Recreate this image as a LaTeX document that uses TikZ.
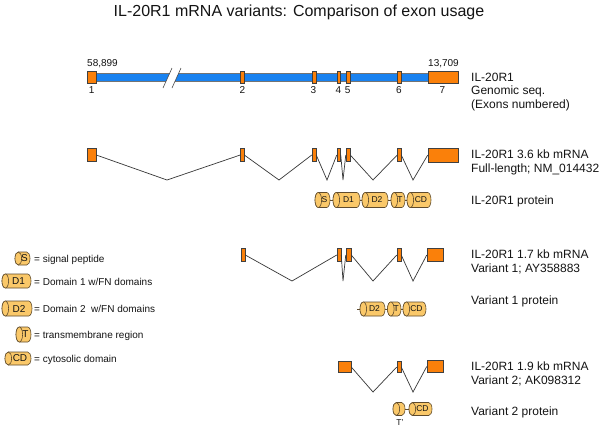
\documentclass[tikz,border=0pt]{standalone}
\usepackage{fontspec}
\setmainfont{Liberation Sans}
\usetikzlibrary{calc}
\definecolor{exonor}{RGB}{250,128,10}
\definecolor{genblue}{RGB}{25,130,240}
\definecolor{domfill}{RGB}{250,200,105}
\definecolor{domline}{RGB}{95,75,45}
\definecolor{lineg}{RGB}{55,55,55}
\definecolor{txt}{RGB}{20,20,20}
\newcommand\domr{3.3}
\tikzset{
 exon/.style={rectangle, draw=black!75, fill=exonor, line width=0.5pt, inner sep=0pt},
 intron/.style={draw=lineg, line width=0.7pt},
 barline/.style={draw=black!55, line width=0.4pt},
 slashline/.style={draw=black!70, line width=0.6pt},
 dombox/.style={rectangle, draw=none, inner sep=0pt},
 domsty/.style={draw=domline, fill=domfill, line width=0.6pt},
 stub/.style={draw=domline, line width=0.6pt},
 smalllbl/.style={font=\fontsize{8.5}{9}\selectfont, text=txt, inner sep=0pt},
 leglbl/.style={font=\fontsize{10}{11}\selectfont, text=txt, inner sep=0pt},
 lbl/.style={anchor=base west, font=\fontsize{12}{14}\selectfont, text=txt, inner sep=0pt},
 leg/.style={anchor=base west, font=\fontsize{10}{12}\selectfont, text=txt, inner sep=0pt},
 num/.style={anchor=base, font=\fontsize{10}{12}\selectfont, text=txt, inner sep=0pt},
 titlestyle/.style={anchor=base, font=\fontsize{16}{18}\selectfont, text=txt, inner sep=0pt}
}
% \exon{name}{x1}{x2}{yc}{height}
\newcommand\exon[5]{\node[exon, minimum width={#3-#2}, minimum height={#5}] (#1) at ({(#2+#3)/2},#4) {};}
% \intron{from}{to}{vx}{vy}
\newcommand\intron[4]{\draw[intron] (#1.east) -- (#3,#4) -- (#2.west);}
% \dom{name}{x1}{x2}{yc}{half height}{label}{label style}
\newcommand\dom[7]{%
 \node[dombox, minimum width={#3-#2}, minimum height={2*#5}] (#1) at ({(#2+#3)/2},#4) {};
 \filldraw[domsty] ({#2+\domr},{#4-#5}) -- ({#3-\domr},{#4-#5}) arc[start angle=-90,end angle=90,x radius=\domr,y radius=#5] -- ({#2+\domr},{#4+#5}) arc[start angle=90,end angle=270,x radius=\domr,y radius=#5] -- cycle;
 \filldraw[domsty] ({#2+\domr},#4) ellipse[x radius=\domr,y radius=#5];
 \node[#7] (#1l) at ({(#2+#3)/2+\domr*0.6},#4) {#6};
}
\begin{document}
\begin{tikzpicture}[x=1pt,y=-1pt]
\useasboundingbox[fill=white] (0,0) rectangle (601,429);

\node[titlestyle] (title) at (299,16) {IL-20R1 mRNA variants: Comparison of exon usage};

% ---------- genomic sequence ----------
\fill[genblue] (96,73) -- (169.75,73) -- (166.15,81) -- (96,81) -- cycle;
\fill[genblue] (178.75,73) -- (428,73) -- (428,81) -- (175.15,81) -- cycle;
\draw[barline] (96,73) -- (169.75,73) (96,81) -- (166.15,81)
               (178.75,73) -- (428,73) (175.15,81) -- (428,81);
\draw[slashline] (163,88) -- (172,68);
\draw[slashline] (172,88) -- (181,68);

\exon{g1}{87}{96}{77}{12}
\exon{g2}{240.5}{244}{77}{12}
\exon{g3}{312}{316}{77}{12}
\exon{g4}{337}{340.5}{77}{12}
\exon{g5}{346}{350}{77}{12}
\exon{g6}{397.5}{401}{77}{12}
\exon{g7}{428}{458}{77}{12}

\node[num, anchor=base west] (c1) at (87,66) {58,899};
\node[num, anchor=base west] (c7) at (428,66) {13,709};
\node[num] (n1) at (91.7,93) {1};
\node[num] (n2) at (242.3,93) {2};
\node[num] (n3) at (313.5,93) {3};
\node[num] (n4) at (338.5,93) {4};
\node[num] (n5) at (347.7,93) {5};
\node[num] (n6) at (399,93) {6};
\node[num] (n7) at (442.3,93) {7};

\node[lbl] (lg1) at (471,81) {IL-20R1};
\node[lbl] (lg2) at (471,94.5) {Genomic seq.};
\node[lbl] (lg3) at (471,108) {(Exons numbered)};

% ---------- 3.6 kb mRNA ----------
\exon{m1}{87}{96}{155}{13}
\exon{m2}{240.5}{244}{155}{13}
\exon{m3}{312}{316}{155}{13}
\exon{m4}{337}{340.5}{155}{13}
\exon{m5}{346}{350}{155}{13}
\exon{m6}{397.5}{401}{155}{13}
\exon{m7}{428}{458}{155}{14}
\intron{m1}{m2}{167}{180}
\intron{m2}{m3}{279}{180}
\intron{m3}{m4}{327}{180}
\intron{m4}{m5}{343}{180}
\intron{m5}{m6}{373}{180}
\intron{m6}{m7}{413}{180}

\node[lbl] (lm1) at (471,158.5) {IL-20R1 3.6 kb mRNA};
\node[lbl] (lm2) at (471,172.5) {Full-length; NM\_014432};

% full protein
\dom{ps}{315}{330}{200}{7.5}{S}{smalllbl}
\dom{pd1}{333}{360}{200}{7.5}{D1}{smalllbl}
\dom{pd2}{362}{388}{200}{7.5}{D2}{smalllbl}
\dom{pt}{391}{405}{200}{7.5}{T}{smalllbl}
\dom{pcd}{407}{431}{200}{7.5}{CD}{smalllbl}
\draw[stub] (ps.east) -- (pd1.west);
\draw[stub] (pd1.east) -- (pd2.west);
\draw[stub] (pd2.east) -- (pt.west);
\draw[stub] (pt.east) -- (pcd.west);
\node[lbl] (lp) at (471,204.5) {IL-20R1 protein};

% ---------- legend ----------
\dom{ls}{15}{30}{258.5}{6.5}{S}{leglbl}
\dom{ld1}{2}{31}{281}{7}{D1}{leglbl}
\dom{ld2}{2}{32}{308.5}{7.5}{D2}{leglbl}
\dom{lt}{16}{31}{334.5}{7.5}{T}{leglbl}
\dom{lcd}{5}{31}{358.5}{6.5}{CD}{leglbl}
\node[leg] (tls) at (34,262) {= signal peptide};
\node[leg] (tld1) at (34,285) {= Domain 1 w/FN domains};
\node[leg] (tld2) at (34,312.5) {= Domain 2\ \ w/FN domains};
\node[leg] (tlt) at (34,338) {= transmembrane region};
\node[leg] (tlcd) at (34,362) {= cytosolic domain};

% ---------- 1.7 kb mRNA ----------
\exon{a2}{241}{245}{255}{13}
\exon{a4}{337}{341}{255}{13}
\exon{a5}{346}{351}{255}{13}
\exon{a6}{397}{401}{255}{13}
\exon{a7}{427}{443}{255}{13}
\intron{a2}{a4}{292}{281}
\intron{a4}{a5}{343}{281}
\intron{a5}{a6}{373}{281}
\intron{a6}{a7}{413}{281}
\node[lbl] (la1) at (471,258.5) {IL-20R1 1.7 kb mRNA};
\node[lbl] (la2) at (471,272.5) {Variant 1; AY358883};

\coordinate (v1s) at (357,309);
\dom{vd2}{360}{385}{309}{7}{D2}{smalllbl}
\dom{vt}{387.5}{401}{309}{7}{T}{smalllbl}
\dom{vcd}{403}{426}{309}{7}{CD}{smalllbl}
\draw[stub] (v1s) -- (vd2.west);
\draw[stub] (vd2.east) -- (vt.west);
\draw[stub] (vt.east) -- (vcd.west);
\node[lbl] (lv1) at (471,304.5) {Variant 1 protein};

% ---------- 1.9 kb mRNA ----------
\exon{b5}{338}{351}{367}{11}
\exon{b6}{397}{401}{367}{11}
\exon{b7}{427}{443}{366.5}{12}
\intron{b5}{b6}{373}{392}
\intron{b6}{b7}{413}{392}
\node[lbl] (lb1) at (471,370.5) {IL-20R1 1.9 kb mRNA};
\node[lbl] (lb2) at (471,384.5) {Variant 2; AK098312};

\dom{wt}{393}{405}{409}{6.5}{}{smalllbl}
\dom{wcd}{409}{432}{409}{6.5}{CD}{smalllbl}
\draw[stub] (wt.east) -- (wcd.west);
\node[smalllbl, anchor=base] (wtl) at (400,425) {T'};
\node[lbl] (lv2) at (471,415.5) {Variant 2 protein};
\end{tikzpicture}
\end{document}
